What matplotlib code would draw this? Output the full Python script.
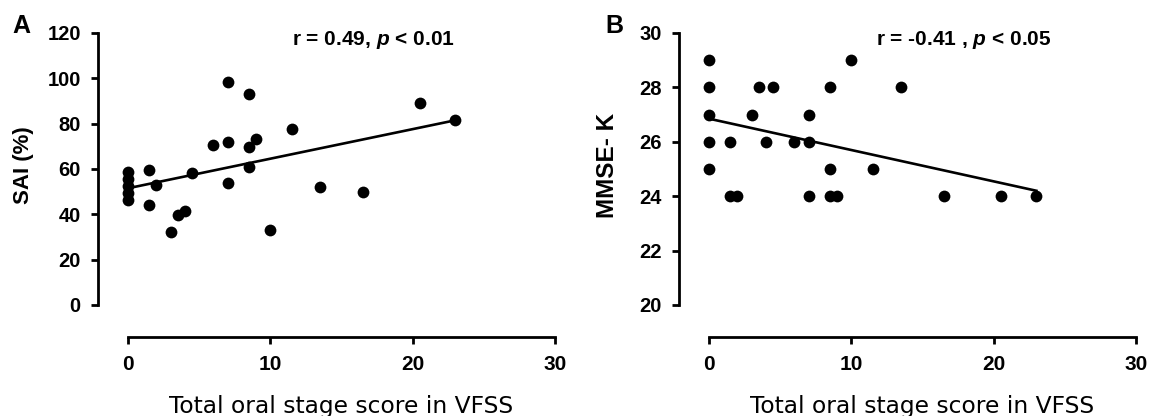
import numpy as np
import matplotlib
matplotlib.use('Agg')
import matplotlib.pyplot as plt

plt.rcParams['font.family'] = ['Liberation Sans', 'DejaVu Sans']
plt.rcParams['mathtext.fontset'] = 'custom'
plt.rcParams['mathtext.rm'] = 'Liberation Sans:bold'
plt.rcParams['mathtext.it'] = 'Liberation Sans:italic:bold'

# panel A : SAI vs total oral stage score
sai_x = [0, 0, 0, 0, 0, 1.5, 1.5, 2, 3, 3.5, 4, 4.5, 6, 7, 7, 7,
         8.5, 8.5, 8.5, 9, 10, 11.5, 13.5, 16.5, 20.5, 23]
sai_y = [46.5, 49.5, 52.5, 55.5, 58.7, 59.6, 44.2, 52.9, 32.1, 39.6, 41.5, 58.2, 70.8, 98.4, 71.7, 53.9,
         93.1, 69.8, 60.8, 73.2, 33.3, 77.5, 52.0, 49.8, 89.0, 81.7]
sai_fit_x = [0, 23]
sai_fit_y = [51.5, 81.5]

# panel B : MMSE-K vs total oral stage score
mmse_x = [0, 0, 0, 0, 0, 1.5, 1.5, 2, 3, 3.5, 4, 4.5, 6, 7, 7, 7,
          8.5, 8.5, 8.5, 9, 10, 11.5, 13.5, 16.5, 20.5, 23]
mmse_y = [29, 28, 27, 26, 25, 26, 24, 24, 27, 28, 26, 28, 26, 27, 26, 24,
          28, 25, 24, 24, 29, 25, 28, 24, 24, 24]
mmse_fit_x = [0, 23]
mmse_fit_y = [26.85, 24.2]

W, H = 1149, 416
fig = plt.figure(figsize=(W / 100, H / 100), dpi=100)


def make_panel(left, x, y, fx, fy, ylim, yticks, ylabel, ylab_x, ylab_size, note, note_x, letter, letter_x):
    ax = fig.add_axes([left / W, (H - 305) / H, 427 / W, 272 / H])
    ax.scatter(x, y, s=72, color='black', clip_on=False, zorder=3, linewidths=0)
    ax.plot(fx, fy, color='black', lw=1.9, clip_on=False, zorder=2)
    ax.set_xlim(0, 30)
    ax.set_ylim(*ylim)
    ax.set_xticks([0, 10, 20, 30])
    ax.set_yticks(yticks)
    for s in ['top', 'right']:
        ax.spines[s].set_visible(False)
    ax.spines['left'].set_position(('outward', 21.5))
    ax.spines['bottom'].set_position(('outward', 23))
    ax.spines['left'].set_bounds(*ylim)
    ax.spines['bottom'].set_bounds(0, 30)
    for s in ['left', 'bottom']:
        ax.spines[s].set_linewidth(2)
    ax.tick_params(axis='both', direction='out', length=5, width=2)
    ax.tick_params(axis='y', pad=7.5, labelsize=14.5)
    ax.tick_params(axis='x', pad=8, labelsize=15)
    for lab in ax.get_xticklabels() + ax.get_yticklabels():
        lab.set_fontweight('bold')
    fig.text((left + 213.5) / W, (H - 413) / H, 'Total oral stage score in VFSS',
             ha='center', va='baseline', fontsize=16.8, family='DejaVu Sans')
    fig.text(ylab_x / W, (H - 165) / H, ylabel, rotation=90, ha='center', va='center',
             fontsize=ylab_size, fontweight='bold')
    fig.text(note_x / W, (H - 45) / H, note, ha='left', va='baseline',
             fontsize=15, fontweight='bold')
    fig.text(letter_x / W, (H - 33) / H, letter, ha='left', va='baseline',
             fontsize=18, fontweight='bold')
    return ax


make_panel(128, sai_x, sai_y, sai_fit_x, sai_fit_y, (0, 120), [0, 20, 40, 60, 80, 100, 120],
           'SAI (%)', 23, 16, r'r = 0.49, $p$ < 0.01', 292, 'A', 12)
make_panel(709, mmse_x, mmse_y, mmse_fit_x, mmse_fit_y, (20, 30), [20, 22, 24, 26, 28, 30],
           'MMSE- K', 608, 17.5, r'r = -0.41 , $p$ < 0.05', 876, 'B', 605)

fig.savefig('out.png', dpi=100)
